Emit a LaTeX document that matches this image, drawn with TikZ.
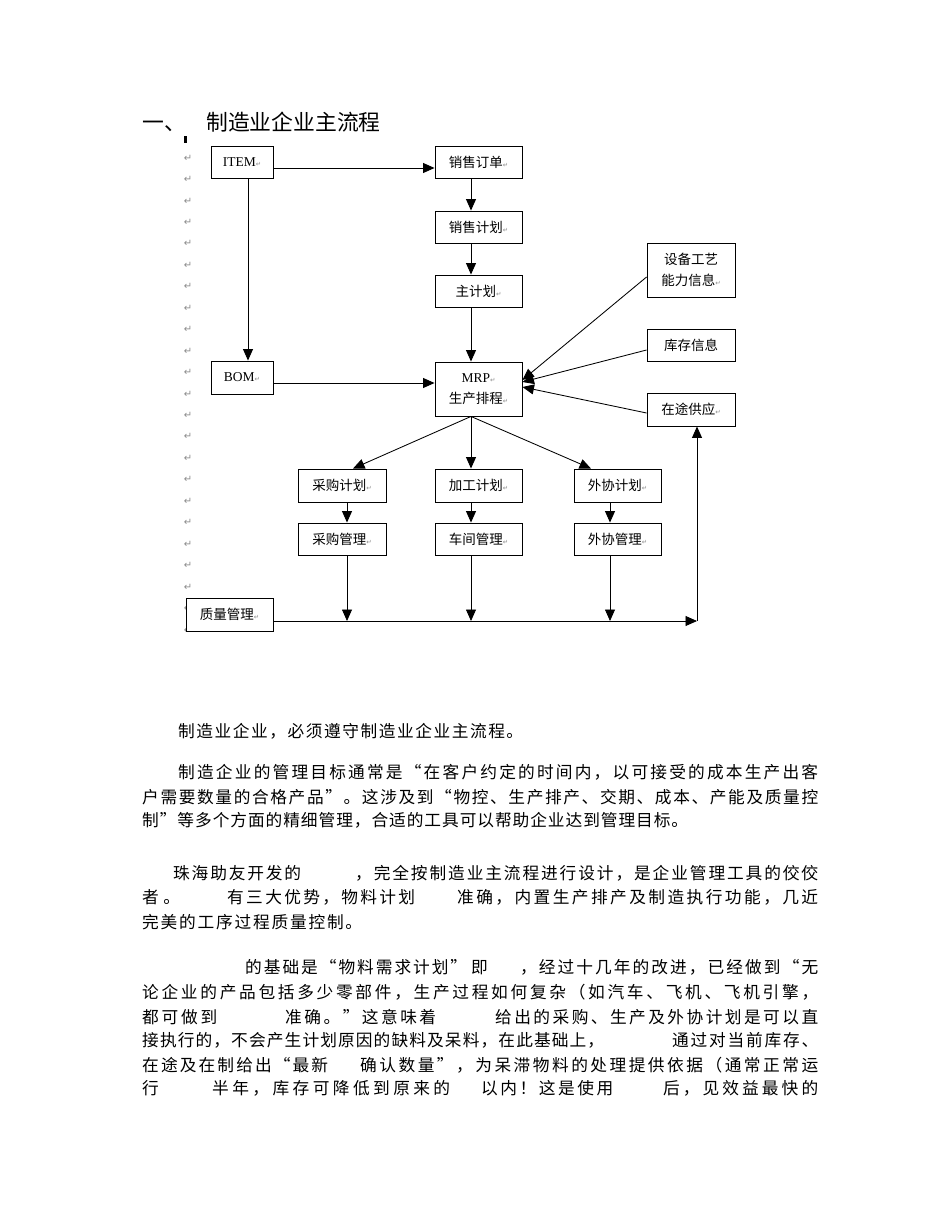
\documentclass[tikz,border=0pt]{standalone}
\usepackage{fontspec}
\setmainfont{Liberation Serif}
\newfontfamily\cjk{Noto Sans CJK SC}
\newfontfamily\djv{DejaVu Sans}
\usetikzlibrary{arrows.meta}
\definecolor{markgray}{RGB}{140,140,140}
\newcommand\parmk{{\djv\fontsize{6.5}{6.5}\selectfont\textcolor{markgray}{↵}}}
\newcommand\lblfont{\cjk\fontsize{13.5}{21}\selectfont}
\newcommand\lat{\rmfamily\fontsize{13.5}{21}\selectfont}
\newcommand\bodyfont{\cjk\fontsize{16.7}{20}\selectfont}
\newcommand\titlefont{\cjk\fontsize{21.8}{24}\selectfont}
\def\sprfirst#1{#1\spreadaux}
\def\spreadaux#1{\ifx#1\relax\else\hfil#1\expandafter\spreadaux\fi}
\newcommand\spr[1]{\sprfirst#1\relax}
\newcommand\sg[2]{\hbox to #1pt{\spr{#2}}}
\begin{document}
\begin{tikzpicture}[x=1pt,y=-1pt,
  box/.style={draw=black, line width=0.9pt, fill=white, inner sep=0pt, align=center, font=\lblfont},
  arr/.style={draw=black, line width=0.85pt, -{Triangle[length=11.5pt,width=10pt]}},
  seg/.style={anchor=west, inner sep=0pt, text height=14.7pt, text depth=2pt, font=\bodyfont},
  ttl/.style={anchor=west, inner sep=0pt, text height=19.2pt, text depth=2.6pt, font=\titlefont},
  pm/.style={inner sep=0pt, font=\djv\fontsize{10}{10}\selectfont, text=markgray}]
\fill[white] (0,0) rectangle (950,1230);
\useasboundingbox (0,0) rectangle (950,1230);

% title
\node[ttl] (t0) at (142,122) {一、};
\node[ttl] (t1) at (206,122) {制造业企业主流程};

% paragraph marks in the left margin
\fill[black] (184,136) rectangle (186.5,143);
\foreach \k in {0,...,22} \node[pm] (pm\k) at (188,{158+21.45*\k}) {↵};

% boxes
\node[box, minimum width=62pt, minimum height=32pt] (item) at (242,162) {\lat ITEM\parmk};
\node[box, minimum width=87pt, minimum height=32pt] (so) at (478.5,162) {销售订单\parmk};
\node[box, minimum width=87pt, minimum height=32pt] (sp) at (478.5,227) {销售计划\parmk};
\node[box, minimum width=87pt, minimum height=32pt] (mp) at (478.5,291) {主计划\parmk};
\node[box, minimum width=87pt, minimum height=54pt] (mrp) at (478.5,389) {{\lat MRP\parmk}\\生产排程\parmk};
\node[box, minimum width=62pt, minimum height=33pt] (bom) at (242,377.5) {\lat BOM\parmk};
\node[box, minimum width=88pt, minimum height=54pt] (sb) at (691,270) {设备工艺\\能力信息\parmk};
\node[box, minimum width=88pt, minimum height=32pt] (kc) at (691,345) {库存信息};
\node[box, minimum width=88pt, minimum height=33pt] (zt) at (691,409.5) {在途供应\parmk};
\node[box, minimum width=88pt, minimum height=33pt] (cgjh) at (342,485.5) {采购计划\parmk};
\node[box, minimum width=87pt, minimum height=33pt] (jgjh) at (478.5,485.5) {加工计划\parmk};
\node[box, minimum width=87pt, minimum height=33pt] (wxjh) at (617.5,485.5) {外协计划\parmk};
\node[box, minimum width=88pt, minimum height=32pt] (cggl) at (342,539) {采购管理\parmk};
\node[box, minimum width=87pt, minimum height=32pt] (cjgl) at (478.5,539) {车间管理\parmk};
\node[box, minimum width=87pt, minimum height=32pt] (wxgl) at (617.5,539) {外协管理\parmk};
\node[box, minimum width=87pt, minimum height=33pt] (zlgl) at (229.5,614.5) {质量管理\parmk};

% helper coordinates
\coordinate (xa) at (471,0);
\coordinate (xi) at (248,0);
\coordinate (xc) at (347,0);
\coordinate (xw) at (610,0);
\coordinate (xr) at (697,0);
\coordinate (xl) at (353,0);
\coordinate (xq) at (591,0);
\coordinate (ya) at (0,168);
\coordinate (yb) at (0,383);
\coordinate (yc) at (0,621);
\coordinate (r1) at (0,277);
\coordinate (r2) at (0,350);
\coordinate (r3) at (0,413);
\coordinate (m1) at (0,380);
\coordinate (m2) at (0,382);
\coordinate (m3) at (0,387);
\coordinate (corner) at (697,621);

% connectors
\draw[arr] (item.east |- ya) -- (so.west |- ya);
\draw[arr] (item.south -| xi) -- (bom.north -| xi);
\draw[arr] (so.south -| xa) -- (sp.north -| xa);
\draw[arr] (sp.south -| xa) -- (mp.north -| xa);
\draw[arr] (mp.south -| xa) -- (mrp.north -| xa);
\draw[arr] (bom.east |- yb) -- (mrp.west |- yb);
\draw[arr] (sb.west |- r1) -- (mrp.east |- m1);
\draw[arr] (kc.west |- r2) -- (mrp.east |- m2);
\draw[arr] (zt.west |- r3) -- (mrp.east |- m3);
\draw[arr] (mrp.south -| xa) -- (cgjh.north -| xl);
\draw[arr] (mrp.south -| xa) -- (jgjh.north -| xa);
\draw[arr] (mrp.south -| xa) -- (wxjh.north -| xq);
\draw[arr] (cgjh.south -| xc) -- (cggl.north -| xc);
\draw[arr] (jgjh.south -| xa) -- (cjgl.north -| xa);
\draw[arr] (wxjh.south -| xw) -- (wxgl.north -| xw);
\draw[arr] (cggl.south -| xc) -- (xc |- yc);
\draw[arr] (cjgl.south -| xa) -- (xa |- yc);
\draw[arr] (wxgl.south -| xw) -- (xw |- yc);
\draw[arr] (zlgl.east |- yc) -- (corner);
\draw[arr] (corner) -- (zt.south -| xr);

% body text
\node[seg] (p1) at (178,731) {\sg{345}{制造业企业，必须遵守制造业企业主流程。}};

\node[seg] (p2a) at (178,772) {\sg{640}{制造企业的管理目标通常是“在客户约定的时间内，以可接受的成本生产出客}};
\node[seg] (p2b) at (142,797) {\sg{676}{户需要数量的合格产品”。这涉及到“物控、生产排产、交期、成本、产能及质量控}};
\node[seg] (p2c) at (142,820) {\sg{546}{制”等多个方面的精细管理，合适的工具可以帮助企业达到管理目标。}};

\node[seg] (p3a) at (173,873) {\sg{128}{珠海助友开发的}};
\node[seg] (p3b) at (355,873) {\sg{463}{，完全按制造业主流程进行设计，是企业管理工具的佼佼}};
\node[seg] (p3c) at (142,897) {\sg{38}{者。}};
\node[seg] (p3d) at (227,897) {\sg{188}{有三大优势，物料计划}};
\node[seg] (p3e) at (457,897) {\sg{361}{准确，内置生产排产及制造执行功能，几近}};
\node[seg] (p3f) at (142,922) {\sg{220}{完美的工序过程质量控制。}};

\node[seg] (p4a) at (245,967) {\sg{222}{的基础是“物料需求计划”}};
\node[seg] (p4b) at (471,967) {即};
\node[seg] (p4c) at (520,967) {\sg{298}{，经过十几年的改进，已经做到“无}};
\node[seg] (p4d) at (142,992) {\sg{676}{论企业的产品包括多少零部件，生产过程如何复杂（如汽车、飞机、飞机引擎，}};
\node[seg] (p4e) at (142,1017) {\sg{75}{都可做到}};
\node[seg] (p4f) at (285,1017) {\sg{151}{准确。”这意味着}};
\node[seg] (p4g) at (495,1017) {\sg{323}{给出的采购、生产及外协计划是可以直}};
\node[seg] (p4h) at (142,1040) {\sg{462}{接执行的，不会产生计划原因的缺料及呆料，在此基础上，}};
\node[seg] (p4i) at (672,1040) {\sg{146}{通过对当前库存、}};
\node[seg] (p4j) at (142,1065) {\sg{186}{在途及在制给出“最新}};
\node[seg] (p4k) at (360,1065) {\sg{458}{确认数量”，为呆滞物料的处理提供依据（通常正常运}};
\node[seg] (p4l) at (142,1088) {行};
\node[seg] (p4m) at (212,1088) {\sg{238}{半年，库存可降低到原来的}};
\node[seg] (p4n) at (481,1088) {\sg{132}{以内！这是使用}};
\node[seg] (p4o) at (663,1088) {\sg{155}{后，见效益最快的}};
\end{tikzpicture}
\end{document}
